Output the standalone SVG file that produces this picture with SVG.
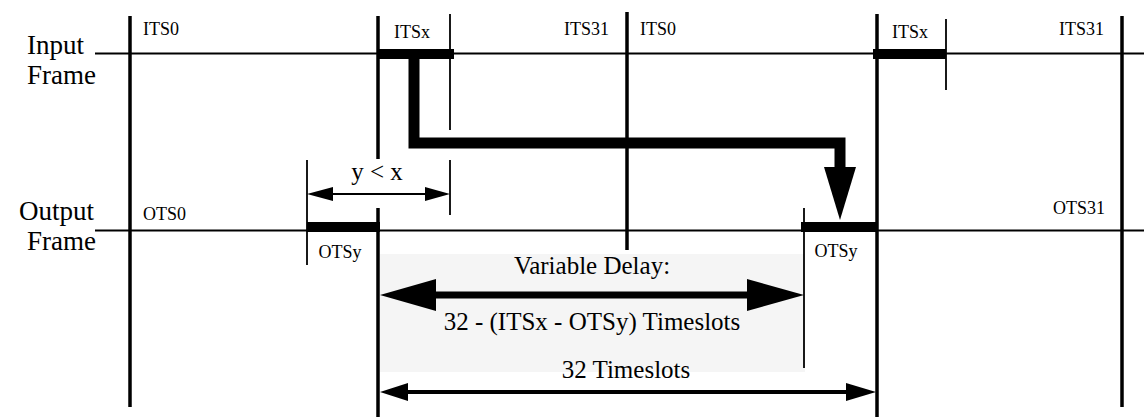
<svg xmlns="http://www.w3.org/2000/svg" width="1144" height="417" viewBox="0 0 1144 417">
<style>
  .bg { fill: #ffffff; }
  .shade { fill: #f5f5f5; }
  .line { stroke: #000; stroke-width: 2; fill: none; }
  .thick { stroke: #000; stroke-width: 3.5; fill: none; }
  .thin { stroke: #000; stroke-width: 1.8; fill: none; }
  .bar { fill: #000; }
  .head { fill: #000; }
  text { font-family: 'Liberation Serif', 'Times New Roman', Times, serif; fill: #000; }
  .big { font-size: 27px; }
  .mid { font-size: 25px; }
  .small { font-size: 18px; }
</style>
<rect class="bg" x="0" y="0" width="1144" height="417"/>

<g id="delay-area">
  <rect class="shade" x="380" y="254" width="425" height="118"/>
</g>

<g id="input-frame">
  <line class="line" x1="95" y1="53.5" x2="1144" y2="53.5"/>
  <rect class="bar" x="377" y="49" width="77" height="10"/>
  <rect class="bar" x="873" y="49" width="73" height="10"/>
  <text class="big" x="27" y="54">Input</text>
  <text class="big" x="27" y="84">Frame</text>
  <text class="small" x="143" y="35">ITS0</text>
  <text class="small" x="412" y="38" text-anchor="middle">ITSx</text>
  <text class="small" x="609" y="35" text-anchor="end">ITS31</text>
  <text class="small" x="640" y="35">ITS0</text>
  <text class="small" x="910" y="38" text-anchor="middle">ITSx</text>
  <text class="small" x="1104" y="35" text-anchor="end">ITS31</text>
</g>

<g id="output-frame">
  <line class="line" x1="95" y1="230.5" x2="1144" y2="230.5"/>
  <rect class="bar" x="307" y="222" width="73" height="10"/>
  <rect class="bar" x="801" y="222" width="77" height="10"/>
  <text class="big" x="19" y="220">Output</text>
  <text class="big" x="27" y="250">Frame</text>
  <text class="small" x="143" y="220">OTS0</text>
  <text class="small" x="340" y="258" text-anchor="middle">OTSy</text>
  <text class="small" x="836" y="257" text-anchor="middle">OTSy</text>
  <text class="small" x="1105" y="214" text-anchor="end">OTS31</text>
</g>

<g id="frame-boundaries">
  <line class="thick" x1="130" y1="16" x2="130" y2="407"/>
  <line class="thick" x1="378" y1="16" x2="378" y2="159"/>
  <line class="thick" x1="378" y1="208" x2="378" y2="417"/>
  <line class="thick" x1="627" y1="12" x2="627" y2="250"/>
  <line class="thick" x1="877" y1="14" x2="877" y2="417"/>
  <line class="thick" x1="1122" y1="16" x2="1122" y2="407"/>
</g>

<g id="slot-edges">
  <line class="thin" x1="450" y1="14" x2="450" y2="130"/>
  <line class="thin" x1="450" y1="160" x2="450" y2="215"/>
  <line class="thin" x1="946" y1="19" x2="946" y2="90"/>
  <line class="thin" x1="307" y1="160" x2="307" y2="265"/>
  <line class="thin" x1="804" y1="208" x2="804" y2="368"/>
</g>

<g id="connectors">
  <path d="M414,59 V143 H840 V168" stroke="#000" stroke-width="11" fill="none" stroke-linejoin="miter"/>
  <polygon class="head" points="824,167 856,167 840,220"/>

  <line class="thin" x1="330" y1="194" x2="428" y2="194"/>
  <polygon class="head" points="307,194 333,187 333,201"/>
  <polygon class="head" points="450,194 425,187 425,201"/>

  <line stroke="#000" stroke-width="7" x1="434" y1="295" x2="749" y2="295"/>
  <polygon class="head" points="380,295 436,279 436,311"/>
  <polygon class="head" points="804,295 747,279 747,311"/>

  <line stroke="#000" stroke-width="4" x1="405" y1="392" x2="848" y2="392"/>
  <polygon class="head" points="380,392 408,383 408,401"/>
  <polygon class="head" points="876,392 846,383 846,401"/>
</g>

<g id="dimension-labels">
  <text class="mid" x="377" y="180" text-anchor="middle">y &lt; x</text>
  <text class="mid" x="592" y="274" text-anchor="middle">Variable Delay:</text>
  <text class="mid" x="592" y="330" text-anchor="middle">32 - (ITSx - OTSy) Timeslots</text>
  <text class="mid" x="626" y="378" text-anchor="middle">32 Timeslots</text>
</g>
</svg>
